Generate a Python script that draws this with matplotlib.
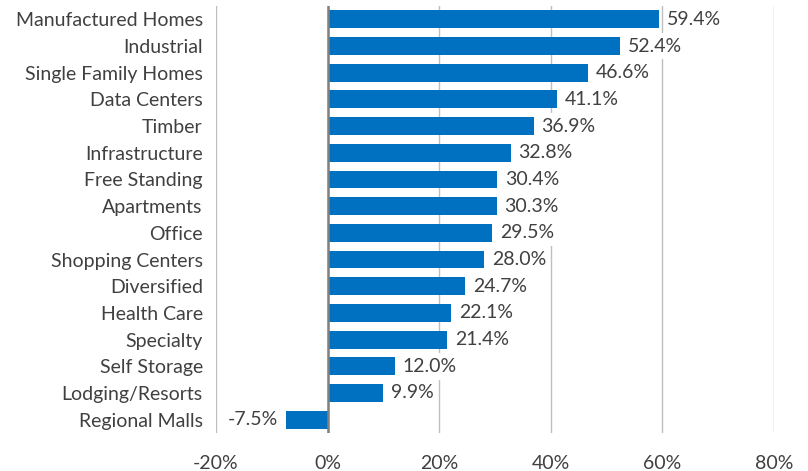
import matplotlib
matplotlib.use("Agg")
import matplotlib.pyplot as plt
from matplotlib.ticker import FuncFormatter
from matplotlib.patches import Rectangle

categories = ["Manufactured Homes", "Industrial", "Single Family Homes", "Data Centers",
              "Timber", "Infrastructure", "Free Standing", "Apartments", "Office",
              "Shopping Centers", "Diversified", "Health Care", "Specialty",
              "Self Storage", "Lodging/Resorts", "Regional Malls"]
values = [59.4, 52.4, 46.6, 41.1, 36.9, 32.8, 30.4, 30.3, 29.5, 28.0, 24.7, 22.1,
          21.4, 12.0, 9.9, -7.5]
xticks = [-20, 0, 20, 40, 60, 80]

plt.rcParams['font.family'] = ['Lato', 'DejaVu Sans']
text_color = "#404040"
fs = 14

fig = plt.figure(figsize=(8.08, 4.71), dpi=100)
ax = fig.add_axes([216/808, 1-433/471, (774-216)/808, (433-6)/471])

n = len(categories)
ypos = list(range(n))
ax.barh(ypos, values, height=0.67, color="#0070C0", zorder=3)
ax.set_ylim(n - 0.5, -0.5)
ax.set_xlim(-20, 80)
ax.set_xticks(xticks)
ax.xaxis.set_major_formatter(FuncFormatter(lambda v, p: f"{v:.0f}%"))
ax.set_yticks(ypos)
ax.set_yticklabels(categories)
ax.tick_params(axis='both', length=0, labelsize=fs, colors=text_color)
ax.tick_params(axis='x', pad=16)
ax.tick_params(axis='y', pad=9.5)
ax.grid(axis='x', color="#BFBFBF", linewidth=1, zorder=0)
ax.axvline(0, color="#808080", linewidth=1.8, zorder=4)
for s in ax.spines.values():
    s.set_visible(False)

texts = []
for y, v in zip(ypos, values):
    if v >= 0:
        t = ax.text(v + 1.4, y, f"{v:.1f}%", va='center', ha='left', fontsize=fs, color=text_color, zorder=5)
    else:
        t = ax.text(v - 1.3, y, f"{v:.1f}%", va='center', ha='right', fontsize=fs, color=text_color, zorder=5)
    texts.append((t, y))

# white label boxes that mask the gridlines, sized from the rendered text
fig.canvas.draw()
renderer = fig.canvas.get_renderer()
inv = ax.transData.inverted()
for t, y in texts:
    bb = t.get_window_extent(renderer)
    x0 = inv.transform((bb.x0, bb.y0))[0]
    x1 = inv.transform((bb.x1, bb.y0))[0]
    ax.add_patch(Rectangle((x0, y - 0.5), x1 - x0, 1.0, facecolor='white',
                           edgecolor='none', zorder=2))

fig.savefig("out.png", dpi=100)
